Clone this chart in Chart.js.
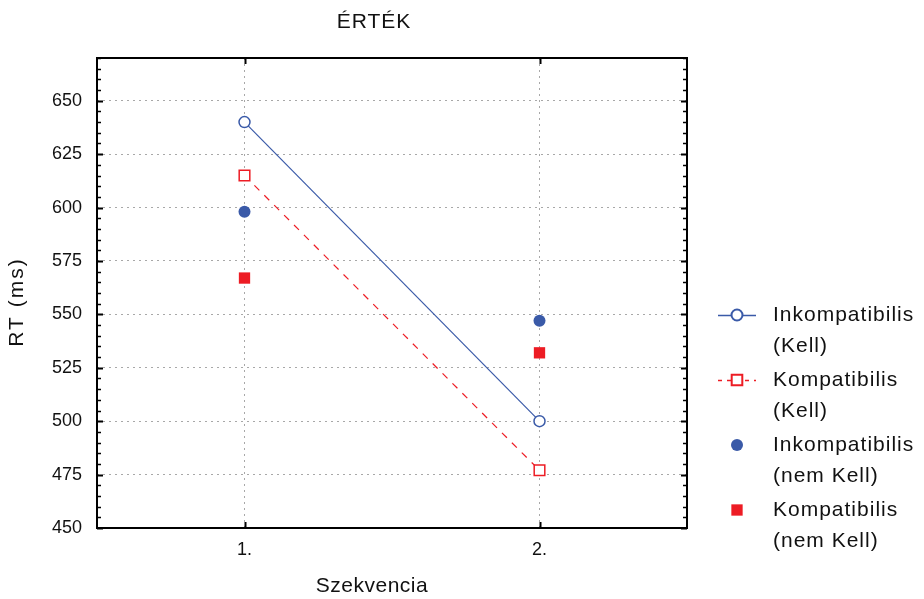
<!DOCTYPE html>
<html>
<head>
<meta charset="utf-8">
<title>ÉRTÉK</title>
<script src="https://cdn.jsdelivr.net/npm/chart.js@4.4.1/dist/chart.umd.min.js"></script>
<style>
    html, body { margin: 0; padding: 0; background: #fff; }
    #wrap { position: relative; width: 924px; height: 599px; }
</style>
</head>
<body>
<div id="wrap"><canvas id="chart"></canvas></div>
<script>
(function () {
    'use strict';

    // categories and tick labels
    var xCategories = [1, 2];
    var xTickLabels = ['1.', '2.'];
    var yTickValues = [450, 475, 500, 525, 550, 575, 600, 625, 650];

    // RT (ms) per condition
    var inkKell = [640, 500];
    var kompKell = [615, 477];
    var inkNemKell = [598, 547];
    var kompNemKell = [567, 532];

    var legendLines = [
        ['Inkompatibilis', '(Kell)'],
        ['Kompatibilis', '(Kell)'],
        ['Inkompatibilis', '(nem Kell)'],
        ['Kompatibilis', '(nem Kell)']
    ];

    var BLUE = '#3a5aa8';
    var RED = '#ed1c24';
    var FONT = '"Liberation Sans", Arial, sans-serif';

    function toPoints(values) {
        return values.map(function (y, i) { return { x: xCategories[i], y: y }; });
    }

    function text(ctx, str, x, y, size, spacing) {
        ctx.font = size + 'px ' + FONT;
        ctx.letterSpacing = spacing + 'px';
        ctx.fillText(str, x, y);
    }

    var framePlugin = {
        id: 'framePlugin',
        afterDraw: function (chart) {
            var ctx = chart.ctx;
            var a = chart.chartArea;
            var xs = chart.scales.x, ys = chart.scales.y;
            ctx.save();

            // inward ticks, minor every 5 ms
            ctx.strokeStyle = '#000';
            for (var v = ys.min; v <= ys.max; v += 5) {
                var py = Math.round(ys.getPixelForValue(v)) + 0.5;
                var major = yTickValues.indexOf(v) !== -1;
                var len = major ? 6 : 4;
                ctx.lineWidth = major ? 2 : 1.5;
                ctx.beginPath();
                ctx.moveTo(a.left, py); ctx.lineTo(a.left + len, py);
                ctx.moveTo(a.right, py); ctx.lineTo(a.right - len, py);
                ctx.stroke();
            }
            ctx.lineWidth = 2;
            xCategories.forEach(function (c) {
                var px = Math.round(xs.getPixelForValue(c)) + 0.5;
                ctx.beginPath();
                ctx.moveTo(px, a.bottom); ctx.lineTo(px, a.bottom - 6);
                ctx.moveTo(px, a.top); ctx.lineTo(px, a.top + 6);
                ctx.stroke();
            });

            // frame
            ctx.lineWidth = 2;
            ctx.strokeRect(a.left, a.top, a.right - a.left, a.bottom - a.top);

            // titles
            ctx.fillStyle = '#111';
            ctx.textAlign = 'center';
            ctx.textBaseline = 'middle';
            text(ctx, 'ÉRTÉK', 374, 22, 21, 1);
            text(ctx, 'Szekvencia', 372, 586, 21, 0.5);
            ctx.save();
            ctx.translate(17, 302);
            ctx.rotate(-Math.PI / 2);
            text(ctx, 'RT (ms)', 0, 0, 21, 2);
            ctx.restore();

            // legend
            chart.data.datasets.forEach(function (ds, i) {
                var yc = 315 + i * 65;
                if (ds.showLine !== false) {
                    ctx.save();
                    ctx.strokeStyle = ds.borderColor;
                    ctx.lineWidth = 1.5;
                    ctx.setLineDash(ds.borderDash ? [4, 5] : []);
                    ctx.beginPath();
                    ctx.moveTo(718, yc + 0.5); ctx.lineTo(756, yc + 0.5);
                    ctx.stroke();
                    ctx.restore();
                }
                ctx.save();
                ctx.fillStyle = ds.pointBackgroundColor;
                ctx.strokeStyle = ds.pointBorderColor;
                Chart.helpers.drawPoint(ctx, {
                    pointStyle: ds.pointStyle,
                    radius: ds.pointRadius,
                    borderWidth: ds.pointBorderWidth,
                    rotation: 0
                }, 737, yc);
                ctx.restore();

                ctx.fillStyle = '#111';
                ctx.textAlign = 'left';
                legendLines[i].forEach(function (line, j) {
                    text(ctx, line, 773, yc + j * 31, 21, 1);
                });
            });
            ctx.restore();
        }
    };

    new Chart(document.getElementById('chart').getContext('2d'), {
        type: 'line',
        data: {
            datasets: [
                {
                    label: legendLines[0].join(' '),
                    data: toPoints(inkKell),
                    borderColor: BLUE,
                    borderWidth: 1.2,
                    pointStyle: 'circle',
                    pointRadius: 5.5,
                    pointBorderWidth: 1.5,
                    pointBorderColor: BLUE,
                    pointBackgroundColor: '#fff'
                },
                {
                    label: legendLines[1].join(' '),
                    data: toPoints(kompKell),
                    borderColor: RED,
                    borderWidth: 1.2,
                    borderDash: [7, 7],
                    pointStyle: 'rect',
                    pointRadius: 7.5,
                    pointBorderWidth: 1.5,
                    pointBorderColor: RED,
                    pointBackgroundColor: '#fff'
                },
                {
                    label: legendLines[2].join(' '),
                    data: toPoints(inkNemKell),
                    showLine: false,
                    pointStyle: 'circle',
                    pointRadius: 6,
                    pointBorderWidth: 0,
                    pointBorderColor: BLUE,
                    pointBackgroundColor: BLUE
                },
                {
                    label: legendLines[3].join(' '),
                    data: toPoints(kompNemKell),
                    showLine: false,
                    pointStyle: 'rect',
                    pointRadius: 8,
                    pointBorderWidth: 0,
                    pointBorderColor: RED,
                    pointBackgroundColor: RED
                }
            ]
        },
        options: {
            responsive: true,
            maintainAspectRatio: false,
            animation: false,
            layout: { padding: { left: 0, top: 58, right: 237, bottom: 0 } },
            plugins: {
                legend: { display: false },
                title: { display: false },
                tooltip: { enabled: false }
            },
            scales: {
                x: {
                    type: 'linear',
                    min: 0.5,
                    max: 2.5,
                    afterBuildTicks: function (s) {
                        s.ticks = xCategories.map(function (v) { return { value: v }; });
                    },
                    afterFit: function (s) { s.height = 71; },
                    ticks: {
                        callback: function (v) { return xTickLabels[xCategories.indexOf(v)]; },
                        font: { family: FONT, size: 18 },
                        color: '#111',
                        padding: 11,
                        maxRotation: 0,
                        autoSkip: false
                    },
                    grid: { color: '#a8a8a8', lineWidth: 1, drawTicks: false },
                    border: { display: false, dash: [2, 4] }
                },
                y: {
                    min: 450,
                    max: 670,
                    afterBuildTicks: function (s) {
                        s.ticks = yTickValues.map(function (v) { return { value: v }; });
                    },
                    afterFit: function (s) { s.width = 97; },
                    ticks: {
                        font: { family: FONT, size: 18 },
                        color: '#111',
                        padding: 15
                    },
                    grid: { color: '#a8a8a8', lineWidth: 1, drawTicks: false },
                    border: { display: false, dash: [2, 4] }
                }
            }
        },
        plugins: [framePlugin]
    });
}());
</script>
</body>
</html>
